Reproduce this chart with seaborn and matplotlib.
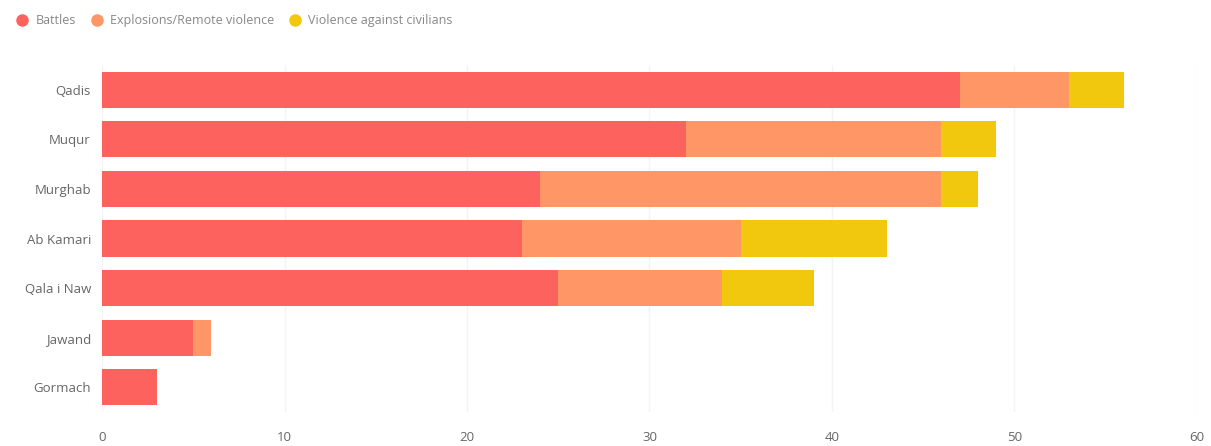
import matplotlib
matplotlib.use("Agg")
import matplotlib.pyplot as plt
from matplotlib.lines import Line2D
import numpy as np
import pandas as pd
import seaborn as sns

sns.set_theme(style="white")
plt.rcParams['font.family'] = ['Open Sans', 'DejaVu Sans']

districts = ["Qadis", "Muqur", "Murghab", "Ab Kamari", "Qala i Naw", "Jawand", "Gormach"]
battles = [47, 32, 24, 23, 25, 5, 3]
explosions = [6, 14, 22, 12, 9, 1, 0]
violence = [3, 3, 2, 8, 5, 0, 0]

series = ["Battles", "Explosions/Remote violence", "Violence against civilians"]
colors = ["#FD625E", "#FE9666", "#F2C80F"]

df = pd.DataFrame({"district": districts, "Battles": battles,
                   "Explosions/Remote violence": explosions,
                   "Violence against civilians": violence})
cum = df[series].cumsum(axis=1)

fig = plt.figure(figsize=(12.11, 4.46), dpi=100)
ax = fig.add_axes([102 / 1211, 34 / 446, 1095 / 1211, 347 / 446])

# draw totals first, then partial sums on top
for s, c in reversed(list(zip(series, colors))):
    sns.barplot(x=cum[s], y=df["district"], color=c, saturation=1,
                width=0.73, ax=ax, orient="h", linewidth=0)

ax.set_xlim(0, 60)
ax.set_xticks(range(0, 61, 10))
ax.set_xlabel("")
ax.set_ylabel("")
for sp in ax.spines.values():
    sp.set_visible(False)
ax.grid(axis="x", color="#f4f4f4", linewidth=1)
ax.set_axisbelow(True)
ax.tick_params(axis="both", length=0, labelsize=9.5, colors="#666666", pad=8)
ax.tick_params(axis="x", pad=14)

handles = [Line2D([], [], marker="o", linestyle="", markersize=8,
                  markerfacecolor=c, markeredgecolor=c) for c in colors]
fig.legend(handles, series, loc="upper left", bbox_to_anchor=(0.002, 0.985),
           ncol=3, frameon=False, fontsize=9, handletextpad=0.1,
           columnspacing=0.6, labelcolor="#888888", borderaxespad=0.2)

fig.savefig("out.png", dpi=100)
